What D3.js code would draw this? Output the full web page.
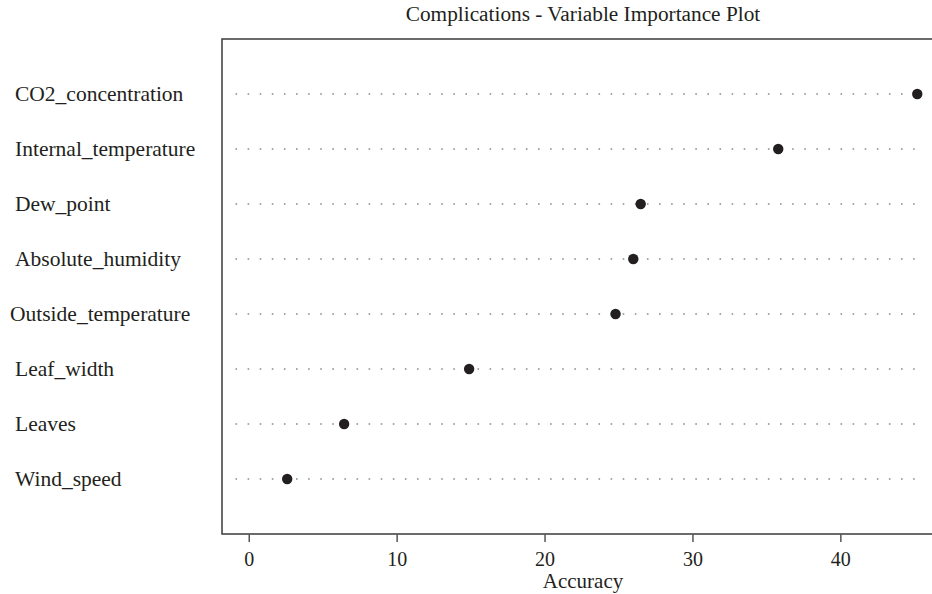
<!DOCTYPE html>
<html>
<head>
<meta charset="utf-8">
<script src="https://cdn.jsdelivr.net/npm/d3@7/dist/d3.min.js"></script>
<style>
  html, body { margin: 0; padding: 0; background: #fff; }
  svg { display: block; }
  text { font-family: "Liberation Serif", "Times New Roman", serif; fill: #231f20; }
</style>
</head>
<body>
<svg id="chart" width="932" height="594"></svg>
<script>
// Variable importance (mean decrease in accuracy), top row first
const variables = [
  "CO2_concentration",
  "Internal_temperature",
  "Dew_point",
  "Absolute_humidity",
  "Outside_temperature",
  "Leaf_width",
  "Leaves",
  "Wind_speed"
];
const accuracy = [45.2, 35.8, 26.5, 26.0, 24.8, 14.9, 6.45, 2.6];
const xTicks = [0, 10, 20, 30, 40];
const chartTitle = "Complications - Variable Importance Plot";
const xLabel = "Accuracy";

const svg = d3.select("#chart");
const plot = { left: 222, right: 944, top: 39, bottom: 534 };

const n = variables.length;
const maxVal = d3.max(accuracy);
const pad = 0.04 * maxVal;

const x = d3.scaleLinear()
  .domain([0 - pad, maxVal + pad])
  .range([plot.left, plot.right]);

// rows run 1..n from the bottom, with a free slot at each end
const y = d3.scaleLinear()
  .domain([0, n + 1])
  .range([plot.bottom, plot.top]);

const rows = variables.map((v, i) => ({ name: v, value: accuracy[i], pos: n - i }));

// dotted guide lines
svg.append("g")
  .selectAll("line")
  .data(rows)
  .join("line")
  .attr("x1", plot.left + 13.5)
  .attr("x2", x(maxVal) + 8)
  .attr("y1", d => y(d.pos))
  .attr("y2", d => y(d.pos))
  .attr("stroke", "#8a8a8a")
  .attr("stroke-width", 1.6)
  .attr("stroke-dasharray", "1.6 10.5");

// points
svg.append("g")
  .selectAll("circle")
  .data(rows)
  .join("circle")
  .attr("cx", d => x(d.value))
  .attr("cy", d => y(d.pos))
  .attr("r", 5.2)
  .attr("fill", "#231f20");

// plot frame
svg.append("rect")
  .attr("x", plot.left)
  .attr("y", plot.top)
  .attr("width", plot.right - plot.left)
  .attr("height", plot.bottom - plot.top)
  .attr("fill", "none")
  .attr("stroke", "#3a3a3a")
  .attr("stroke-width", 1.5);

// bottom axis
const axis = svg.append("g")
  .attr("transform", `translate(0,${plot.bottom})`)
  .call(d3.axisBottom(x).tickValues(xTicks).tickSize(8).tickPadding(10).tickFormat(d3.format("d")));
axis.select(".domain").remove();
axis.selectAll(".tick line").attr("stroke", "#555").attr("stroke-width", 1.5);
axis.selectAll(".tick text")
  .attr("font-size", 20)
  .attr("font-family", "Liberation Serif, serif")
  .attr("fill", "#231f20");

// variable labels
svg.append("g")
  .selectAll("text")
  .data(rows)
  .join("text")
  .attr("x", d => d.name === "Outside_temperature" ? 10 : 15)
  .attr("y", d => y(d.pos) + 7)
  .attr("font-size", 21.5)
  .text(d => d.name);

// title
svg.append("text")
  .attr("x", (plot.left + plot.right) / 2)
  .attr("y", 21)
  .attr("text-anchor", "middle")
  .attr("font-size", 21.3)
  .text(chartTitle);

// x axis title
svg.append("text")
  .attr("x", (plot.left + plot.right) / 2)
  .attr("y", 588)
  .attr("text-anchor", "middle")
  .attr("font-size", 21)
  .text(xLabel);
</script>
</body>
</html>
